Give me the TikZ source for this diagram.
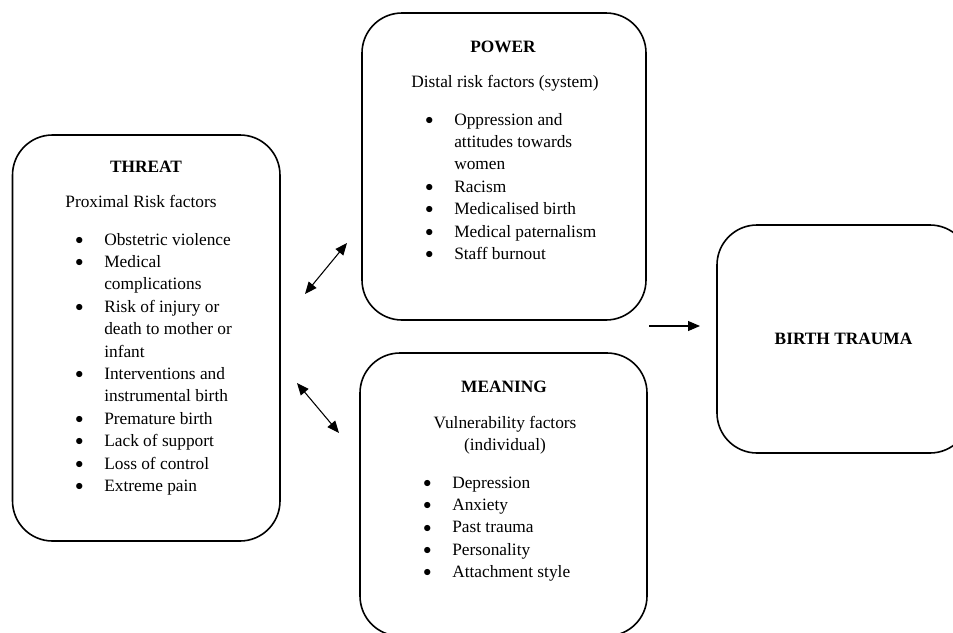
\documentclass[tikz,border=0pt]{standalone}
\usepackage{fontspec}
\setmainfont{Liberation Serif}
\usetikzlibrary{arrows.meta}
\newcommand{\blt}{\raisebox{0.6pt}{$\bullet$}}

\begin{document}
\begin{tikzpicture}[x=0.75pt, y=-0.75pt,
    panel/.style={draw, line width=1.2pt, rounded corners=30pt, inner sep=0pt},
    headtxt/.style={anchor=base, inner sep=0pt, font=\fontsize{13}{16.8}\selectfont\bfseries},
    subtxt/.style={anchor=base, inner sep=0pt, font=\fontsize{13}{16.8}\selectfont},
    listtxt/.style={anchor=base west, inner sep=0pt, font=\fontsize{13}{16.8}\selectfont},
    link/.style={line width=0.8pt, {Triangle[length=9pt,width=7.5pt]}-{Triangle[length=9pt,width=7.5pt]}},
    flow/.style={line width=0.8pt, -{Triangle[length=9pt,width=7.5pt]}}]
  \path[use as bounding box, clip] (0,0) rectangle (953,632);

  % the four panels
  \node[panel, minimum width=200.6pt, minimum height=304.5pt] (threat) at (146.25,338) {};
  \node[panel, minimum width=213pt, minimum height=230.25pt] (power) at (504,166.5) {};
  \node[panel, minimum width=215.25pt, minimum height=212.25pt] (meaning) at (503.5,494.5) {};
  \node[panel, minimum width=189.75pt, minimum height=171pt,
        font=\fontsize{13}{16.8}\selectfont\bfseries] (birth) at (843.5,339) {BIRTH TRAUMA};

  % THREAT
  \node[headtxt] (threattitle) at (146,172) {THREAT};
  \node[subtxt] (threatsub) at (141,207) {Proximal Risk factors};
  \node[listtxt] (threatlist) at (75,245) {\begin{tabular}[t]{@{}p{21.75pt}@{}l@{}}
    \blt & Obstetric violence\\
    \blt & Medical\\
         & complications\\
    \blt & Risk of injury or\\
         & death to mother or\\
         & infant\\
    \blt & Interventions and\\
         & instrumental birth\\
    \blt & Premature birth\\
    \blt & Lack of support\\
    \blt & Loss of control\\
    \blt & Extreme pain
  \end{tabular}};

  % POWER
  \node[headtxt] (powertitle) at (503,52) {POWER};
  \node[subtxt] (powersub) at (505,87) {Distal risk factors (system)};
  \node[listtxt] (powerlist) at (425,125) {\begin{tabular}[t]{@{}p{21.75pt}@{}l@{}}
    \blt & Oppression and\\
         & attitudes towards\\
         & women\\
    \blt & Racism\\
    \blt & Medicalised birth\\
    \blt & Medical paternalism\\
    \blt & Staff burnout
  \end{tabular}};

  % MEANING
  \node[headtxt] (meaningtitle) at (504,392) {MEANING};
  \node[subtxt] (meaningsub) at (505,428) {\begin{tabular}[t]{@{}c@{}}
    Vulnerability factors\\
    (individual)
  \end{tabular}};
  \node[listtxt] (meaninglist) at (423,488) {\begin{tabular}[t]{@{}p{21.75pt}@{}l@{}}
    \blt & Depression\\
    \blt & Anxiety\\
    \blt & Past trauma\\
    \blt & Personality\\
    \blt & Attachment style
  \end{tabular}};

  % arrows between the panels
  \coordinate (threatup) at (305,294);
  \coordinate (powerlow) at (347,243);
  \coordinate (threatlow) at (297,383);
  \coordinate (meaningup) at (339,433);
  \coordinate (flowfrom) at (649,326);
  \coordinate (flowto) at (700,326);
  \draw[link] (threatup) -- (powerlow);
  \draw[link] (threatlow) -- (meaningup);
  \draw[flow] (flowfrom) -- (flowto);
\end{tikzpicture}
\end{document}
